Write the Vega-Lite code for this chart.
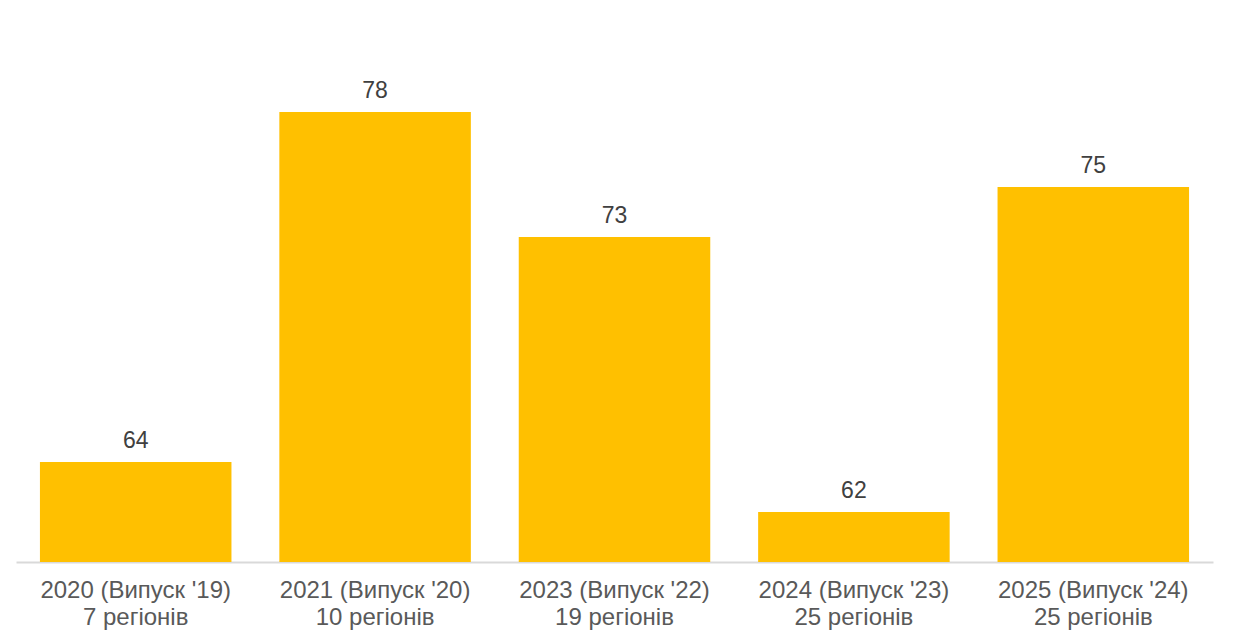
{
  "$schema": "https://vega.github.io/schema/vega-lite/v6.json",
  "width": 1197,
  "height": 525,
  "autosize": {"type": "none"},
  "padding": {"left": 16, "top": 37, "right": 30, "bottom": 79},
  "background": "white",
  "config": {"view": {"stroke": null}, "font": "Liberation Sans"},
  "data": {
    "values": [
      {"cat": "2020 (Випуск '19)|7 регіонів", "value": 64},
      {"cat": "2021 (Випуск '20)|10 регіонів", "value": 78},
      {"cat": "2023 (Випуск '22)|19 регіонів", "value": 73},
      {"cat": "2024 (Випуск '23)|25 регіонів", "value": 62},
      {"cat": "2025 (Випуск '24)|25 регіонів", "value": 75}
    ]
  },
  "encoding": {
    "x": {
      "field": "cat",
      "type": "nominal",
      "sort": null,
      "scale": {"paddingInner": 0.2, "paddingOuter": 0.1},
      "axis": {
        "title": null,
        "labelAngle": 0,
        "labelExpr": "split(datum.label, '|')",
        "labelFont": "Liberation Sans",
        "labelFontSize": 24,
        "labelLineHeight": 27,
        "labelLimit": 0,
        "labelColor": "#595959",
        "labelPadding": 16,
        "labelBaseline": "top",
        "ticks": false,
        "domainColor": "#d9d9d9",
        "domainWidth": 2
      }
    },
    "y": {
      "field": "value",
      "type": "quantitative",
      "scale": {"domain": [60, 81], "zero": false, "nice": false},
      "axis": null
    }
  },
  "layer": [
    {"mark": {"type": "bar", "color": "#FFC000", "clip": true}},
    {
      "mark": {
        "type": "text",
        "baseline": "alphabetic",
        "dy": -14,
        "fontSize": 23,
        "font": "Liberation Sans",
        "color": "#404040"
      },
      "encoding": {"text": {"field": "value", "type": "quantitative"}}
    }
  ]
}
